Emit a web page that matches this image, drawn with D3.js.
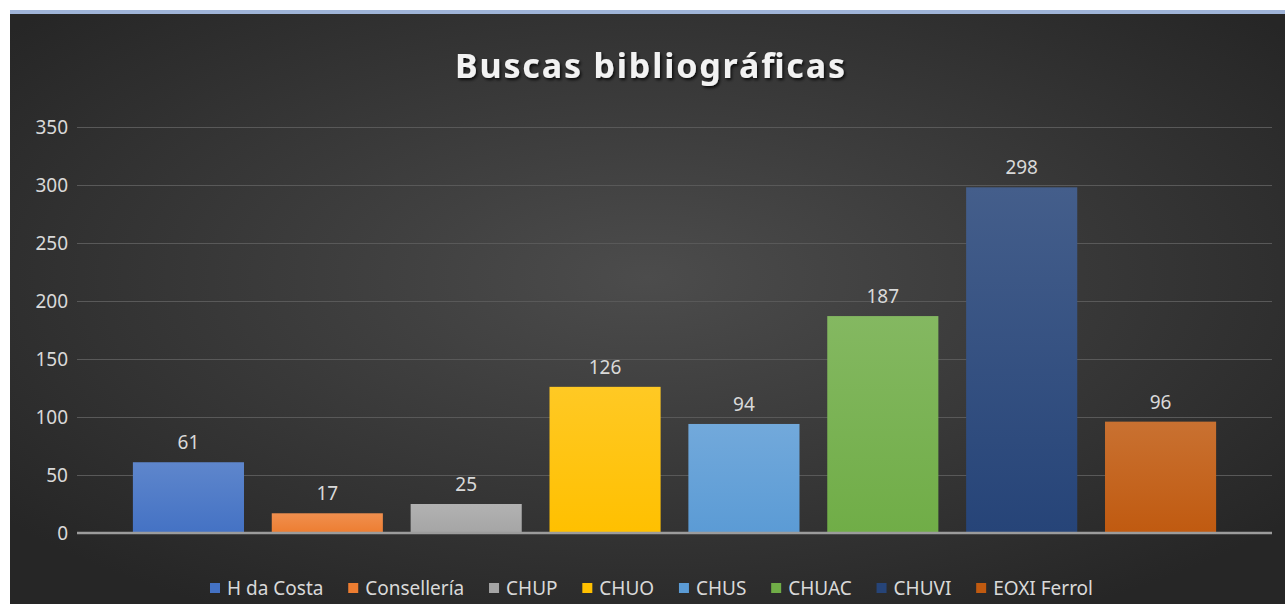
<!DOCTYPE html>
<html>
<head>
<meta charset="utf-8">
<script src="https://cdn.jsdelivr.net/npm/d3@7"></script>
<style>
	html, body { margin: 0; padding: 0; background: #fff; }
	svg { display: block; }
</style>
</head>
<body>
<div id="chart"></div>
<script>
(function () {
	"use strict";

	var WIDTH = 1285;
	var HEIGHT = 604;

	var categories = ['H da Costa', 'Consellería', 'CHUP', 'CHUO', 'CHUS', 'CHUAC', 'CHUVI', 'EOXI Ferrol'];
	var values = [61, 17, 25, 126, 94, 187, 298, 96];
	var yTicks = [0, 50, 100, 150, 200, 250, 300, 350];
	var colors = ['#4472c4', '#ed7d31', '#a5a5a5', '#ffc000', '#5b9bd5', '#70ad47', '#264478', '#c05a10'];

	var FONT = '"Noto Sans", "Open Sans", sans-serif';

	var svg = d3.select('#chart').append('svg')
		.attr('width', WIDTH)
		.attr('height', HEIGHT);

	var defs = svg.append('defs');

	var bg = defs.append('radialGradient')
		.attr('id', 'bg')
		.attr('cx', '50%').attr('cy', '45%').attr('r', '65%');
	bg.append('stop').attr('offset', '0%').attr('stop-color', '#4c4c4c');
	bg.append('stop').attr('offset', '100%').attr('stop-color', '#262626');

	colors.forEach(function (color, i) {
		var g = defs.append('linearGradient')
			.attr('id', 'bar' + i)
			.attr('x1', 0).attr('y1', 0).attr('x2', 0).attr('y2', 1);
		g.append('stop').attr('offset', '0%').attr('stop-color', d3.interpolateRgb(color, '#ffffff')(0.14));
		g.append('stop').attr('offset', '100%').attr('stop-color', color);
	});

	var shadow = defs.append('filter').attr('id', 'shadow')
		.attr('x', '-10%').attr('y', '-30%').attr('width', '120%').attr('height', '160%');
	shadow.append('feDropShadow')
		.attr('dx', 1.5).attr('dy', 2).attr('stdDeviation', 1.5)
		.attr('flood-color', '#000').attr('flood-opacity', 0.8);

	// chart area (white margin left and top, blue rim)
	svg.append('rect')
		.attr('x', 10).attr('y', 10)
		.attr('width', WIDTH - 10).attr('height', HEIGHT - 10)
		.attr('fill', 'url(#bg)');
	svg.append('rect')
		.attr('x', 10).attr('y', 10)
		.attr('width', WIDTH - 10).attr('height', 4)
		.attr('fill', '#9fb4d8');

	var y = d3.scaleLinear().domain([0, 350]).range([533, 127]);
	var x = d3.scaleBand().domain(categories).range([119, 1230]).paddingInner(0.2).paddingOuter(0.1);

	var GRID_LEFT = 77;
	var GRID_RIGHT = 1272;

	// gridlines + tick labels
	var yAxis = d3.axisLeft(y)
		.tickValues(yTicks)
		.tickSize(-(GRID_RIGHT - GRID_LEFT))
		.tickPadding(9);
	var axisG = svg.append('g')
		.attr('transform', 'translate(' + GRID_LEFT + ',0)')
		.call(yAxis);
	axisG.select('.domain').remove();
	axisG.selectAll('.tick line')
		.attr('stroke', '#595959')
		.attr('stroke-width', 1);
	axisG.selectAll('.tick text')
		.attr('fill', '#d9d9d9')
		.style('font-family', FONT)
		.style('font-size', '19px');

	// bars
	svg.append('g').selectAll('rect')
		.data(values)
		.enter()
		.append('rect')
		.attr('x', function (d, i) { return x(categories[i]); })
		.attr('y', function (d) { return y(d); })
		.attr('width', x.bandwidth())
		.attr('height', function (d) { return y(0) - y(d); })
		.attr('fill', function (d, i) { return 'url(#bar' + i + ')'; });

	// baseline
	svg.append('line')
		.attr('x1', GRID_LEFT).attr('x2', GRID_RIGHT)
		.attr('y1', y(0)).attr('y2', y(0))
		.attr('stroke', '#9c9c9c')
		.attr('stroke-width', 2.5);

	// data labels
	svg.append('g').selectAll('text')
		.data(values)
		.enter()
		.append('text')
		.attr('x', function (d, i) { return x(categories[i]) + x.bandwidth() / 2; })
		.attr('y', function (d) { return y(d) - 13; })
		.attr('text-anchor', 'middle')
		.attr('fill', '#d9d9d9')
		.style('font-family', FONT)
		.style('font-size', '19px')
		.text(function (d) { return d; });

	// title
	svg.append('text')
		.attr('x', 650)
		.attr('y', 78)
		.attr('text-anchor', 'middle')
		.attr('fill', '#f2f2f2')
		.attr('filter', 'url(#shadow)')
		.attr('textLength', 390)
		.attr('lengthAdjust', 'spacing')
		.style('font-family', FONT)
		.style('font-size', '34px')
		.style('font-weight', 'bold')
		.text('Buscas bibliográficas');

	// legend
	var legend = svg.append('g').attr('transform', 'translate(0,588)');
	var items = legend.selectAll('g')
		.data(categories)
		.enter()
		.append('g');
	items.append('rect')
		.attr('y', -5).attr('width', 10).attr('height', 10)
		.attr('fill', function (d, i) { return colors[i]; });
	items.append('text')
		.attr('x', 17)
		.attr('dy', '0.35em')
		.attr('fill', '#d9d9d9')
		.style('font-family', FONT)
		.style('font-size', '19px')
		.text(function (d) { return d; });

	var widths = [];
	items.each(function () {
		widths.push(17 + d3.select(this).select('text').node().getComputedTextLength());
	});
	var LEGEND_LEFT = 210;
	var LEGEND_RIGHT = 1093;
	var gap = (LEGEND_RIGHT - LEGEND_LEFT - d3.sum(widths)) / (categories.length - 1);
	var cursor = LEGEND_LEFT;
	items.attr('transform', function (d, i) {
		var pos = cursor;
		cursor += widths[i] + gap;
		return 'translate(' + pos + ',0)';
	});
}());
</script>
</body>
</html>
